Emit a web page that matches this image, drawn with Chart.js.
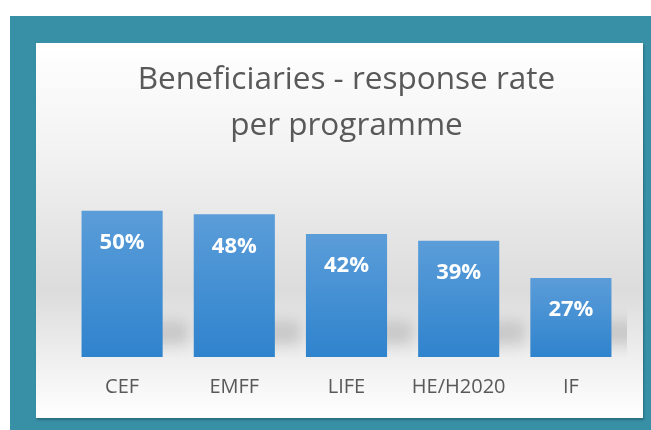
<!DOCTYPE html>
<html>
<head>
<meta charset="utf-8">
<script src="https://cdn.jsdelivr.net/npm/chart.js@4"></script>
<style>
  html, body { margin: 0; padding: 0; background: #fff; }
  #frame {
    position: absolute; left: 10px; top: 16px; width: 641px; height: 414px;
    background: #3790a6;
  }
  #panel {
    position: absolute; left: 36px; top: 43px; width: 607px; height: 375px;
    background: linear-gradient(to bottom, #ffffff 0%, #f3f3f3 28%, #dcdcdc 66%, #efefef 84%, #ffffff 100%);
    box-shadow: 1px 2px 2px rgba(0,0,0,0.25);
  }
  #chart { display: block; }
</style>
</head>
<body>
<div id="frame"></div>
<div id="panel"><canvas id="chart" width="607" height="375"></canvas></div>
<script>
const programmes = ['CEF', 'EMFF', 'LIFE', 'HE/H2020', 'IF'];
// bar heights; the labels show them rounded
const responseRate = [49.6, 48.4, 41.7, 39.4, 26.8];
const titleLines = ['Beneficiaries - response rate', 'per programme'];

const ctx = document.getElementById('chart').getContext('2d');

function barGradient(context) {
    const chart = context.chart;
    const yScale = chart.scales.y;
    if (!chart.chartArea || !yScale) return '#4a90d4';
    const top = yScale.getPixelForValue(context.raw);
    const base = yScale.getPixelForValue(0);
    const g = chart.ctx.createLinearGradient(0, top, 0, base);
    g.addColorStop(0, '#5b9dd9');
    g.addColorStop(1, '#2f83cd');
    return g;
}

// soft grey shadow behind the lower right of each bar
const barShadows = {
    id: 'barShadows',
    beforeDatasetsDraw(chart) {
        const c = chart.ctx;
        const area = chart.chartArea;
        c.save();
        c.beginPath();
        c.rect(area.left, area.top, area.right - area.left, area.bottom - area.top);
        c.clip();
        c.filter = 'blur(7px)';
        c.fillStyle = 'rgba(120,120,120,0.28)';
        chart.getDatasetMeta(0).data.forEach(bar => {
            c.fillRect(bar.x, bar.base - 36, bar.width / 2 + 26, 24);
        });
        c.restore();
    }
};

// white percentage labels inside the top of each bar
const valueLabels = {
    id: 'valueLabels',
    afterDatasetsDraw(chart) {
        const c = chart.ctx;
        c.save();
        c.fillStyle = '#ffffff';
        c.font = 'bold 22px "Open Sans"';
        c.textAlign = 'center';
        c.textBaseline = 'middle';
        chart.getDatasetMeta(0).data.forEach((bar, i) => {
            c.fillText(Math.round(responseRate[i]) + '%', bar.x, bar.y + 32);
        });
        c.restore();
    }
};

new Chart(ctx, {
    type: 'bar',
    data: {
        labels: programmes,
        datasets: [{
            data: responseRate,
            backgroundColor: barGradient,
            borderWidth: 0,
            categoryPercentage: 1,
            barPercentage: 0.723,
        }],
    },
    options: {
        responsive: false,
        animation: false,
        layout: { padding: { top: 6, left: 30, right: 16, bottom: 0 } },
        scales: {
            x: {
                grid: { display: false, drawTicks: false },
                border: { display: false },
                ticks: {
                    color: '#595959',
                    padding: 19,
                    font: { family: 'Open Sans', size: 20, lineHeight: 1.15 },
                },
            },
            y: {
                display: false,
                min: 0,
                max: 60,
            },
        },
        plugins: {
            legend: { display: false },
            tooltip: { enabled: false },
            title: {
                display: true,
                text: titleLines,
                color: '#595959',
                font: { family: 'Open Sans', size: 31.5, weight: 'normal', lineHeight: 1.43 },
                padding: { top: 9, bottom: 32 },
            },
        },
    },
    plugins: [barShadows, valueLabels],
});
</script>
</body>
</html>
